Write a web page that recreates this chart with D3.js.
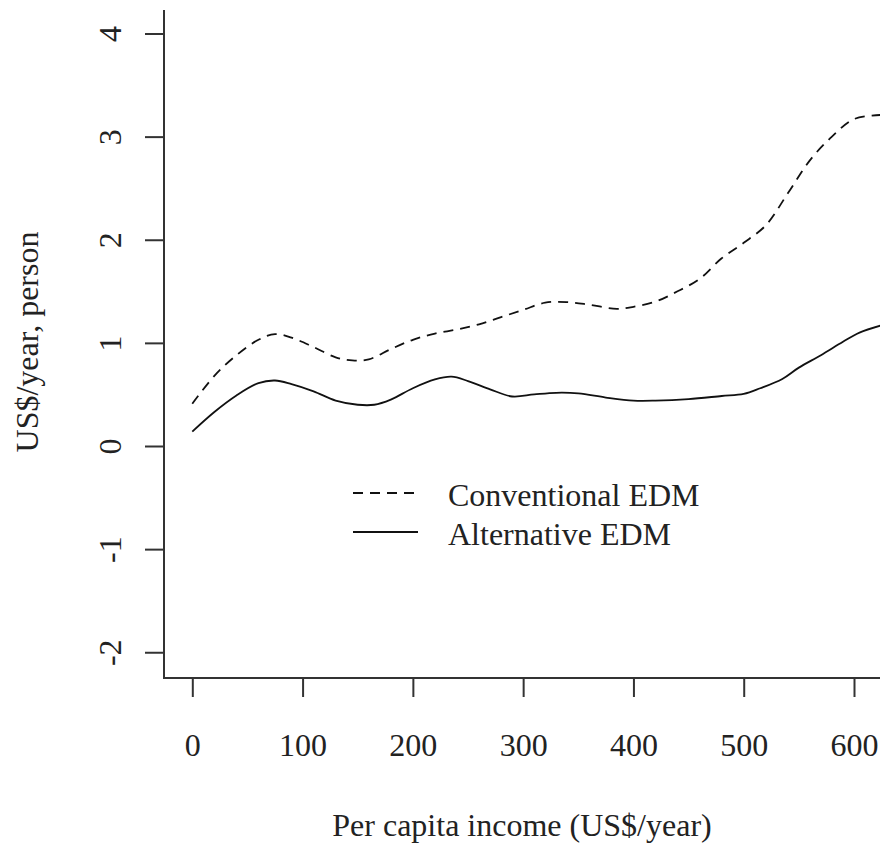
<!DOCTYPE html>
<html>
<head>
<meta charset="utf-8">
<script src="https://cdn.jsdelivr.net/npm/d3@7"></script>
<style>
  body { margin: 0; background: #fff; }
  text { font-family: "Liberation Serif", "Times New Roman", serif; fill: #222; }
</style>
</head>
<body>
<div class="canvas"></div>
<script>
// data
const convX = [0, 20, 40, 60, 75, 90, 110, 130, 145, 160, 180, 200, 220, 240, 260, 280, 300, 320, 340, 360, 385, 400, 420, 440, 460, 480, 500, 520, 540, 560, 580, 600, 625];
const convY = [0.41, 0.68, 0.88, 1.03, 1.085, 1.05, 0.96, 0.86, 0.83, 0.84, 0.94, 1.03, 1.09, 1.13, 1.18, 1.25, 1.32, 1.39, 1.395, 1.37, 1.33, 1.35, 1.40, 1.50, 1.62, 1.82, 1.97, 2.14, 2.45, 2.77, 3.00, 3.17, 3.21];
const altX = [0, 20, 40, 60, 75, 90, 110, 130, 150, 165, 180, 200, 220, 235, 250, 270, 290, 310, 330, 350, 375, 400, 420, 450, 480, 500, 515, 535, 550, 570, 590, 605, 625];
const altY = [0.14, 0.33, 0.49, 0.61, 0.635, 0.60, 0.53, 0.44, 0.40, 0.40, 0.45, 0.56, 0.645, 0.672, 0.63, 0.55, 0.48, 0.50, 0.516, 0.51, 0.47, 0.44, 0.44, 0.455, 0.485, 0.505, 0.56, 0.65, 0.76, 0.88, 1.01, 1.10, 1.17];
const xTicks = [0, 100, 200, 300, 400, 500, 600];
const yTicks = [-2, -1, 0, 1, 2, 3, 4];
const legendNames = ["Conventional EDM", "Alternative EDM"];

const W = 883, H = 844;
const box = { left: 164, right: 880, top: 10, bottom: 678 };

const svg = d3.select('.canvas')
  .append('svg')
  .attr('width', W)
  .attr('height', H);

// scales
const x = d3.scaleLinear().domain([0, 600]).range([192.3, 854]);
const y = d3.scaleLinear().domain([0, 4]).range([446, 33.5]);

// clip for curves
svg.append('clipPath').attr('id', 'plotclip')
  .append('rect')
  .attr('x', box.left).attr('y', box.top)
  .attr('width', box.right - box.left).attr('height', box.bottom - box.top);

// y axis (plain hyphen for negatives, like the original)
const yAxis = svg.append('g')
  .attr('transform', `translate(${box.left},0)`)
  .call(d3.axisLeft(y).tickValues(yTicks).tickSize(19).tickFormat(d => String(d)));
yAxis.select('.domain').remove();
yAxis.selectAll('line').attr('stroke', '#333').attr('stroke-width', 2);
yAxis.selectAll('text')
  .attr('x', null).attr('dy', null)
  .attr('transform', 'translate(-43,0) rotate(-90)')
  .attr('text-anchor', 'middle')
  .style('font-size', '32px')
  .style('font-family', '"Liberation Serif", serif')
  .attr('fill', '#222');

// x axis
const xAxis = svg.append('g')
  .attr('transform', `translate(0,${box.bottom})`)
  .call(d3.axisBottom(x).tickValues(xTicks).tickSize(19).tickFormat(d => String(d)));
xAxis.select('.domain').remove();
xAxis.selectAll('line').attr('stroke', '#333').attr('stroke-width', 2);
xAxis.selectAll('text')
  .attr('y', 78).attr('dy', null)
  .style('font-size', '32px')
  .style('font-family', '"Liberation Serif", serif')
  .attr('fill', '#222');

// L-shaped box
svg.append('path')
  .attr('d', `M${box.left},${box.top}V${box.bottom}H${box.right}`)
  .attr('fill', 'none')
  .attr('stroke', '#333')
  .attr('stroke-width', 2);

// curves
const line = d3.line()
  .x(d => x(d[0]))
  .y(d => y(d[1]))
  .curve(d3.curveCatmullRom.alpha(0.5));

const graph = svg.append('g').attr('clip-path', 'url(#plotclip)');

graph.append('path')
  .datum(d3.zip(convX, convY))
  .attr('d', line)
  .attr('fill', 'none')
  .attr('stroke', '#111')
  .attr('stroke-width', 1.8)
  .attr('stroke-dasharray', '10,7');

graph.append('path')
  .datum(d3.zip(altX, altY))
  .attr('d', line)
  .attr('fill', 'none')
  .attr('stroke', '#111')
  .attr('stroke-width', 1.8);

// legend
const legend = svg.append('g');
const legendRows = [
  { name: legendNames[0], dash: '10,7', ly: 493, ty: 506 },
  { name: legendNames[1], dash: null, ly: 532, ty: 545 }
];
legendRows.forEach(r => {
  legend.append('line')
    .attr('x1', 353).attr('x2', 418)
    .attr('y1', r.ly).attr('y2', r.ly)
    .attr('stroke', '#111')
    .attr('stroke-width', 1.8)
    .attr('stroke-dasharray', r.dash);
  legend.append('text')
    .attr('x', 448).attr('y', r.ty)
    .style('font-size', '32px')
    .text(r.name);
});

// axis titles
svg.append('text')
  .attr('x', 522).attr('y', 836)
  .attr('text-anchor', 'middle')
  .style('font-size', '32px')
  .text('Per capita income (US$/year)');

svg.append('text')
  .attr('transform', 'translate(38,342) rotate(-90)')
  .attr('text-anchor', 'middle')
  .style('font-size', '32px')
  .text('US$/year, person');
</script>
</body>
</html>
